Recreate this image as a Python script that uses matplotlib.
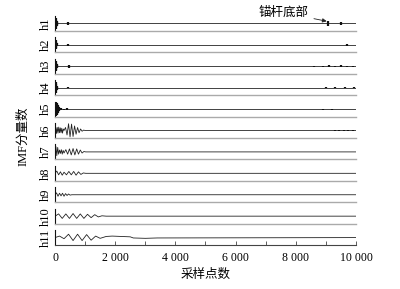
import matplotlib
matplotlib.use('Agg')
import matplotlib.pyplot as plt
from matplotlib.ticker import MultipleLocator, FuncFormatter

plt.rcParams['font.family'] = ['Liberation Serif', 'Noto Sans CJK SC']
cjk = ['Noto Sans CJK SC', 'DejaVu Sans']

labels = ['h1', 'h2', 'h3', 'h4', 'h5', 'h6', 'h7', 'h8', 'h9', 'h10', 'h11']

# 波形部分 (采样点, 幅值)
wave_x = {
    'h6': [0, 25, 50, 75, 100, 125, 150, 175, 200, 225, 250, 275, 300, 350, 400, 450, 500, 550,
           600, 650, 700, 750, 800, 850, 900, 950, 1000],
    'h7': [0, 30, 60, 90, 120, 150, 180, 210, 240, 270, 300, 360, 420, 480, 540, 600, 660, 720,
           780, 840, 900, 960, 1020],
    'h8': [0, 60, 120, 180, 240, 300, 380, 460, 540, 620, 700, 780, 860, 940, 1020],
    'h9': [0, 50, 100, 150, 200, 250, 300, 350, 400, 450, 500, 560],
    'h10': [0, 120, 240, 360, 480, 600, 720, 840, 960, 1080, 1200, 1320, 1440, 1560, 1700],
    'h11': [0, 150, 300, 450, 600, 750, 900, 1050, 1200, 1350, 1500, 1700, 1900, 2200, 2500,
            2600, 3000, 3400],
}
wave_y = {
    'h6': [0, 0.45, -0.4, 0.4, -0.35, 0.45, -0.3, 0.35, -0.3, 0.3, -0.35, 0.2, 0, 0.4, -0.6,
           0.9, -0.85, 0.85, -0.8, 0.6, -0.5, 0.4, -0.3, 0.2, -0.1, 0.05, 0],
    'h7': [0, 0.7, -0.5, 0.6, -0.3, 0.25, -0.2, 0.3, -0.3, 0.2, -0.15, 0.3, -0.3, 0.4, -0.4,
           0.45, -0.4, 0.4, -0.3, 0.25, -0.15, 0.05, 0],
    'h8': [0, 0.3, -0.2, 0.2, -0.25, 0.15, -0.2, 0.25, -0.2, 0.25, -0.25, 0.2, -0.15, 0.05, 0],
    'h9': [0, 0.25, -0.2, 0.2, -0.15, 0.2, -0.2, 0.15, -0.1, 0.1, -0.05, 0],
    'h10': [0, 0.3, -0.3, 0.3, -0.3, 0.35, -0.3, 0.3, -0.3, 0.25, -0.2, 0.2, -0.1, 0.05, 0],
    'h11': [0, 0.2, -0.15, 0.45, -0.4, 0.45, -0.4, 0.4, -0.35, 0.2, -0.1, 0.15, 0.2, 0.15,
            0.1, -0.05, -0.1, -0.05],
}

# 脉冲部分 (采样点, 半幅值)
spike_x = {
    'h1': [10, 25, 40, 55, 70, 430, 9070, 9500],
    'h2': [10, 25, 40, 55, 430, 8600, 8800, 9700],
    'h3': [10, 25, 40, 55, 70, 450, 8600, 8900, 9100, 9300, 9500, 9700, 9900],
    'h4': [10, 25, 40, 55, 70, 430, 9000, 9300, 9650, 9950],
    'h5': [10, 30, 50, 70, 90, 110, 130, 150, 200, 300, 400, 500, 600, 700, 800, 900, 1000,
           1100, 1200, 1300, 8600, 8750, 8900, 9050, 9200, 9350, 9500, 9650, 9800, 9950],
    'h6': [9300, 9450, 9600, 9750, 9900],
    'h7': [], 'h8': [], 'h9': [4400], 'h10': [], 'h11': [],
}
spike_h = {
    'h1': [0.6, 0.7, 0.5, 0.3, 0.15, 0.25, 0.3, 0.2],
    'h2': [0.5, 0.6, 0.4, 0.2, 0.15, 0.04, 0.04, 0.12],
    'h3': [0.5, 0.65, 0.45, 0.25, 0.12, 0.2, 0.06, 0.08, 0.1, 0.08, 0.1, 0.08, 0.06],
    'h4': [0.6, 0.7, 0.45, 0.25, 0.12, 0.1, 0.08, 0.08, 0.08, 0.06],
    'h5': [0.85, 0.9, 0.8, 0.65, 0.5, 0.35, 0.25, 0.15, 0.1, 0.06, 0.12, 0.04, 0.04, 0.04,
           0.04, 0.04, 0.04, 0.04, 0.03, 0.03, 0.05, 0.04, 0.06, 0.05, 0.06, 0.05, 0.05,
           0.05, 0.04, 0.05],
    'h6': [0.05, 0.08, 0.06, 0.05, 0.05],
    'h7': [], 'h8': [], 'h9': [0.03], 'h10': [], 'h11': [],
}

fig, axes = plt.subplots(len(labels), 1, figsize=(4.0, 2.89), dpi=100, sharex=True)
fig.subplots_adjust(left=0.1375, right=0.89, top=0.945, bottom=0.152, hspace=0.43)

for ax, name in zip(axes, labels):
    if name in wave_x:
        xs = wave_x[name] + [10000]
        ys = wave_y[name] + [0]
    else:
        xs, ys = [0, 10000], [0, 0]
    ax.plot(xs, ys, color='#222222', lw=0.6)
    if spike_x[name]:
        ax.vlines(spike_x[name], [-h for h in spike_h[name]], spike_h[name],
                  color='#111111', lw=1.6)
    ax.set_xlim(0, 10000)
    ax.set_ylim(-1, 1)
    ax.set_yticks([])
    for s in ['top', 'right']:
        ax.spines[s].set_visible(False)
    ax.spines['left'].set_color('#111111')
    ax.spines['left'].set_linewidth(0.8)
    ax.spines['bottom'].set_color('#aaaaaa')
    ax.spines['bottom'].set_linewidth(1.0)
    ax.tick_params(axis='x', which='both', bottom=False, labelbottom=False)
    ax.set_ylabel(name, fontsize=9, labelpad=2)
    ax.patch.set_alpha(0)

last = axes[-1]
last.spines['bottom'].set_color('#444444')
last.spines['bottom'].set_linewidth(0.8)
last.xaxis.set_major_locator(MultipleLocator(2000))
last.xaxis.set_minor_locator(MultipleLocator(1000))
last.xaxis.set_major_formatter(FuncFormatter(lambda v, p: f'{int(v):,}'.replace(',', ' ')))
last.tick_params(axis='x', which='both', bottom=True, labelbottom=True, direction='in',
                 length=3, width=0.6, color='#444444', labelsize=8.5, pad=5)
last.set_xlabel('采样点数', fontsize=9, family=cjk, labelpad=3)

fig.text(0.058, 0.53, 'IMF分量数', rotation=90, fontsize=9, ha='center', va='center',
         family=['Liberation Serif', 'Noto Sans CJK SC'])

axes[0].annotate('锚杆底部', xy=(9070, 0.25), xytext=(8420, 1.45), fontsize=9, family=cjk,
                 ha='right', va='center', annotation_clip=False,
                 arrowprops=dict(arrowstyle='-|>', color='#222222', lw=0.6,
                                 mutation_scale=6, shrinkA=2, shrinkB=1))

fig.savefig('out.png', dpi=100)
